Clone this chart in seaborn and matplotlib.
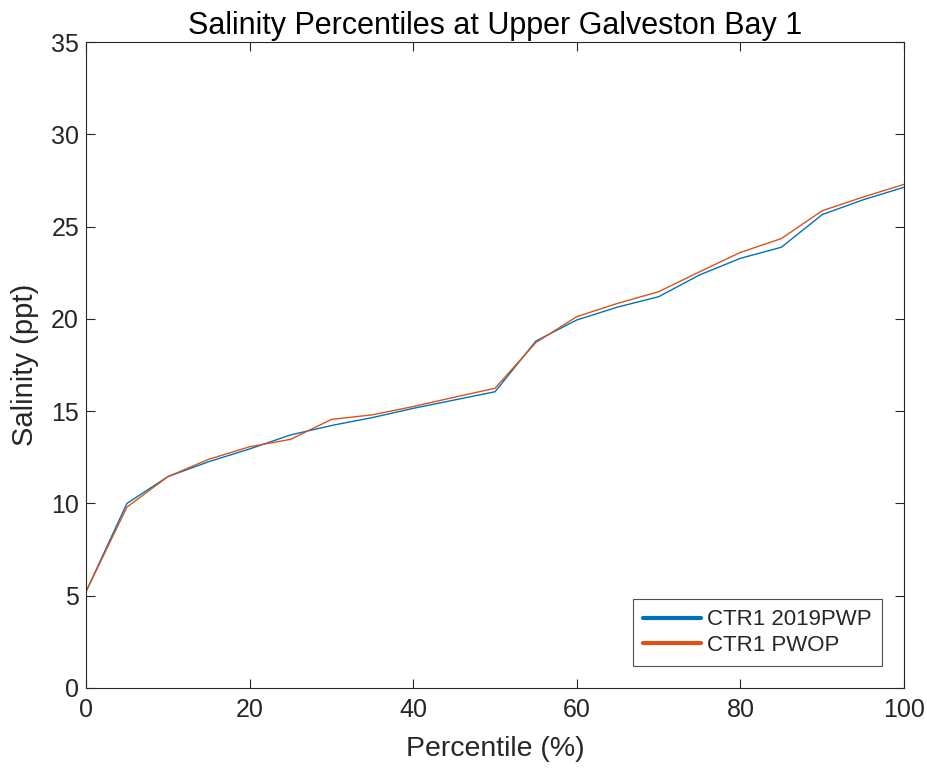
import matplotlib
matplotlib.use("Agg")
import matplotlib.pyplot as plt
import seaborn as sns
import pandas as pd

percentile = [0, 5, 10, 15, 20, 25, 30, 35, 40, 45, 50, 55, 60, 65, 70, 75, 80, 85, 90, 95, 100]
ctr1_2019pwp = [5.22, 10.0, 11.45, 12.26, 12.95, 13.71, 14.22, 14.65, 15.15, 15.6, 16.05, 18.8, 19.94, 20.64, 21.2, 22.38, 23.28, 23.88, 25.65, 26.45, 27.13]
ctr1_pwop = [5.22, 9.8, 11.45, 12.39, 13.07, 13.47, 14.55, 14.8, 15.25, 15.75, 16.24, 18.72, 20.12, 20.84, 21.47, 22.55, 23.6, 24.35, 25.86, 26.6, 27.29]
series_names = ["CTR1 2019PWP", "CTR1 PWOP"]
colors = ["#0072BD", "#D95319"]

df = pd.DataFrame({
    "Percentile": percentile * 2,
    "Salinity": ctr1_2019pwp + ctr1_pwop,
    "Series": [series_names[0]] * len(percentile) + [series_names[1]] * len(percentile),
})

sns.set_style("white")
plt.rcParams['font.family'] = ['Liberation Sans', 'DejaVu Sans']

fig = plt.figure(figsize=(9.28, 7.68), dpi=100)
ax = fig.add_axes([0.0927, 0.1042, 0.8815, 0.8411])
sns.lineplot(data=df, x="Percentile", y="Salinity", hue="Series", palette=colors,
             linewidth=1.0, ax=ax)

ax.set_xlim(0, 100)
ax.set_ylim(0, 35)
ax.set_xticks([0, 20, 40, 60, 80, 100])
ax.set_yticks([0, 5, 10, 15, 20, 25, 30, 35])
ax.tick_params(direction='in', length=6.5, width=0.8, labelsize=18, colors='#262626',
               top=True, right=True, bottom=True, left=True)
ax.tick_params(axis='x', pad=7)
ax.tick_params(axis='y', pad=5)
ax.tick_params(labeltop=False, labelright=False)
for s in ax.spines.values():
    s.set_color('#262626')
    s.set_linewidth(0.8)
ax.set_xlabel("Percentile (%)", fontsize=20.5, color='#262626', labelpad=10)
ax.set_ylabel("Salinity (ppt)", fontsize=21, color='#262626', labelpad=9)
ax.set_title("Salinity Percentiles at Upper Galveston Bay 1", fontsize=22, color='black', pad=6)

leg = ax.legend(loc='lower right', fontsize=16, frameon=True, fancybox=False,
                edgecolor='#262626', borderaxespad=1.0, handlelength=2.6,
                handletextpad=0.3, borderpad=0.45, labelspacing=0.2)
leg.get_frame().set_linewidth(0.8)
for line in leg.get_lines():
    line.set_linewidth(3)

fig.savefig("out.png", dpi=100)
